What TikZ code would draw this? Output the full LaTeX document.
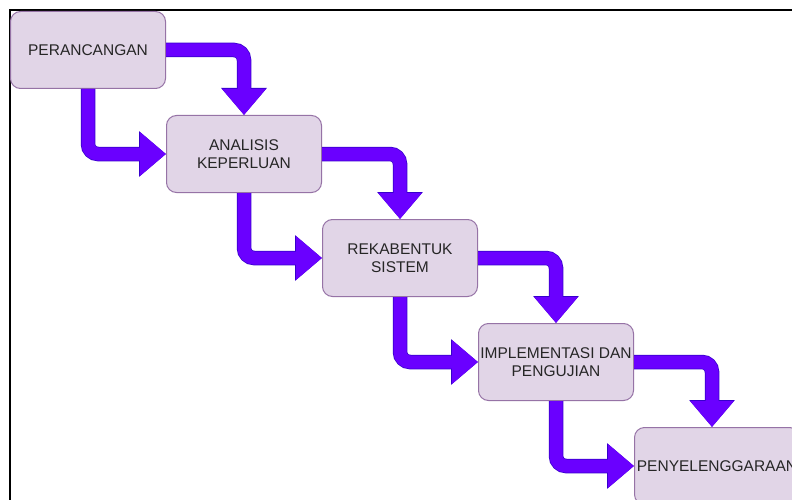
\documentclass[tikz,border=0pt]{standalone}
\usepackage{fontspec}
\setmainfont{Liberation Sans}
\usetikzlibrary{arrows.meta}
\definecolor{boxfill}{HTML}{E1D5E7}
\definecolor{boxline}{HTML}{9673A6}
\definecolor{flowfill}{HTML}{6A00FF}
\definecolor{flowline}{HTML}{3700CC}
\definecolor{textgray}{HTML}{262626}
\tikzset{
  phase/.style={draw=boxline, fill=boxfill, line width=1pt, rounded corners=10pt,
    minimum width=155pt, minimum height=77pt, inner sep=0pt, align=center,
    text=textgray, font=\fontsize{15.5}{18}\selectfont},
  flow/.style={draw=flowfill, line width=13pt, rounded corners=10pt,
    -{Triangle[width=42pt,length=26pt]},
    preaction={draw=flowline, line width=14.5pt, -{Triangle[width=44pt,length=27pt]}}}
}
\begin{document}
\begin{tikzpicture}[x=1pt,y=-1pt]
\useasboundingbox (0,0) rectangle (792,500);
\clip (0,0) rectangle (792,500);
\fill[white] (0,0) rectangle (792,500);
\draw[line width=2pt] (10,10) rectangle (820,520);
% phases
\node[phase] (perancangan) at (88,50) {PERANCANGAN};
\node[phase] (analisis) at (244,154) {ANALISIS\\KEPERLUAN};
\node[phase] (rekabentuk) at (400,258) {REKABENTUK\\SISTEM};
\node[phase] (implementasi) at (556,362) {IMPLEMENTASI DAN\\PENGUJIAN};
\node[phase, minimum width=165pt, xshift=5pt] (penyelenggaraan) at (712,466) {PENYELENGGARAAN};
% arrows
\draw[flow] (perancangan.east) -| (analisis.north);
\draw[flow] (perancangan.south) |- (analisis.west);
\draw[flow] (analisis.east) -| (rekabentuk.north);
\draw[flow] (analisis.south) |- (rekabentuk.west);
\draw[flow] (rekabentuk.east) -| (implementasi.north);
\draw[flow] (rekabentuk.south) |- (implementasi.west);
\draw[flow] (implementasi.east) -| (712,466 |- penyelenggaraan.north);
\draw[flow] (implementasi.south) |- (penyelenggaraan.west);
\end{tikzpicture}
\end{document}
